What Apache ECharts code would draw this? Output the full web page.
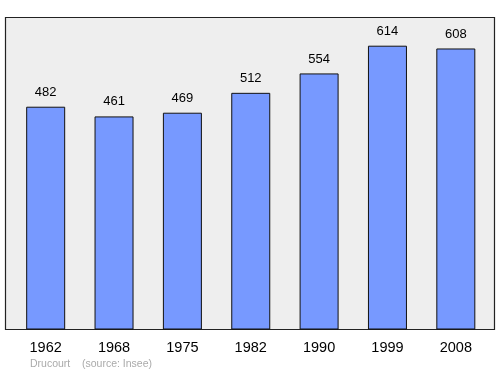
<!DOCTYPE html>
<html><head><meta charset="utf-8">
<script src="https://cdn.jsdelivr.net/npm/echarts@6/dist/echarts.min.js"></script>
<style>html,body{margin:0;padding:0;background:#fff}#c{width:500px;height:374px}</style>
</head><body><div id="c"></div>
<script>
var years = ['1962','1968','1975','1982','1990','1999','2008'];
var population = [482,461,469,512,554,614,608];
var commune = 'Drucourt';
var source = '(source: Insee)';

var chart = echarts.init(document.getElementById('c'), null, {renderer:'canvas'});
chart.setOption({
  animation:false,
  backgroundColor:'#ffffff',
  graphic:[
    {type:'rect', shape:{x:5.5,y:17.5,width:489,height:312}, style:{fill:'#eeeeee',stroke:'#222',lineWidth:1.2}, z:-10},
    {type:'text', left:30, top:359, style:{text:commune, fill:'#aaaaaa', font:'10.5px "Liberation Sans", Arial, sans-serif'}},
    {type:'text', left:82, top:359, style:{text:source, fill:'#aaaaaa', font:'10.5px "Liberation Sans", Arial, sans-serif'}}
  ],
  grid:{left:11.5, right:10, top:17.5, bottom:44.5, containLabel:false},
  xAxis:{type:'category', data:years, axisLine:{show:false}, axisTick:{show:false},
    axisLabel:{color:'#000', fontSize:14.5, fontFamily:'Liberation Sans, Arial, sans-serif', margin:11}},
  yAxis:{type:'value', min:0, max:675, show:false, splitLine:{show:false}},
  series:[{type:'bar', data:population, barWidth:39,
    itemStyle:{color:'#7799ff', borderColor:'#111', borderWidth:1},
    label:{show:true, position:'top', distance:8, color:'#000', fontSize:13, fontFamily:'Liberation Sans, Arial, sans-serif'}}]
});
</script></body></html>
